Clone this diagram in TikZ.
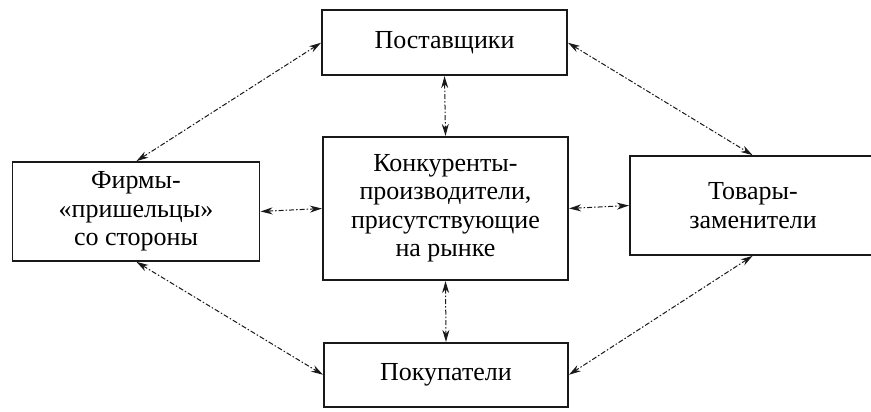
\documentclass[tikz,border=0pt]{standalone}
\usepackage{fontspec}
\setmainfont{Liberation Serif}
\usetikzlibrary{arrows.meta}
\begin{document}
\begin{tikzpicture}[x=1pt,y=-1pt,
  box/.style={draw=black!90, line width=1.2pt, rectangle, inner sep=0pt, align=center,
    font=\fontsize{26}{28.5}\selectfont},
  link/.style={black!90, line width=1pt, dash pattern=on 5pt off 2pt on 1.5pt off 2pt,
    {Stealth[length=12pt,width=7pt]}-{Stealth[length=12pt,width=7pt]}, shorten <=0.5pt, shorten >=0.5pt}]
\clip (0,0) rectangle (871,412);
\fill[white] (0,0) rectangle (871,412);
\node[box, minimum width=245pt, minimum height=65pt] (sup) at (444.5,42.5) {Поставщики};
\node[box, minimum width=245pt, minimum height=143pt] (comp) at (445.5,208.5)
  {Конкуренты-\\производители,\\присутствующие\\на рынке};
\node[box, minimum width=244pt, minimum height=64pt] (buy) at (446,375) {Покупатели};
\node[box, minimum width=247pt, minimum height=99pt] (new) at (136,211.5)
  {Фирмы-\\«пришельцы»\\со стороны};
\node[box, minimum width=246pt, minimum height=99pt] (sub) at (753,205.5)
  {Товары-\\заменители};
\draw[link] (new.north) -- (sup.west);
\draw[link] (sup.east) -- (sub.north);
\draw[link] (new.south) -- (buy.west);
\draw[link] (sub.south) -- (buy.east);
\draw[link] (sup.south) -- (comp.north);
\draw[link] (comp.south) -- (buy.north);
\draw[link] (new.east) -- (comp.west);
\draw[link] (comp.east) -- (sub.west);
\end{tikzpicture}
\end{document}
